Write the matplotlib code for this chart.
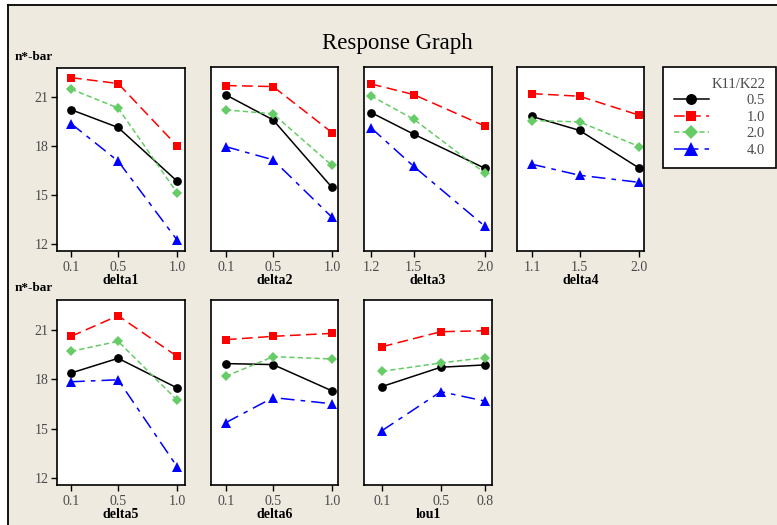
#!/usr/bin/env python3
"""
Response graph: mean n*-bar against each factor level,
one line per K11/K22 ratio, laid out as a 2-row panel grid.
"""

import matplotlib
matplotlib.use('Agg')
import matplotlib.pyplot as plt
from matplotlib.lines import Line2D
from matplotlib.patches import Rectangle

plt.rcParams['font.family'] = ['Liberation Serif', 'DejaVu Serif']
plt.rcParams['font.size'] = 9

# ---- data -------------------------------------------------------------
ratio_labels = ['0.5', '1.0', '2.0', '4.0']

factor_names = ['delta1', 'delta2', 'delta3', 'delta4', 'delta5', 'delta6', 'lou1']
factor_levels = [
    [0.1, 0.5, 1.0],
    [0.1, 0.5, 1.0],
    [1.2, 1.5, 2.0],
    [1.1, 1.5, 2.0],
    [0.1, 0.5, 1.0],
    [0.1, 0.5, 1.0],
    [0.1, 0.5, 0.8],
]
level_ticks = [
    ['0.1', '0.5', '1.0'],
    ['0.1', '0.5', '1.0'],
    ['1.2', '1.5', '2.0'],
    ['1.1', '1.5', '2.0'],
    ['0.1', '0.5', '1.0'],
    ['0.1', '0.5', '1.0'],
    ['0.1', '0.5', '0.8'],
]

# mean n*-bar per factor, one row per K11/K22 ratio (0.5, 1.0, 2.0, 4.0)
delta1 = [[20.25, 19.16, 15.88],
          [22.21, 21.85, 18.04],
          [21.51, 20.35, 15.17],
          [19.40, 17.10, 12.28]]
delta2 = [[21.10, 19.58, 15.47],
          [21.67, 21.61, 18.81],
          [20.19, 19.95, 16.81],
          [17.95, 17.15, 13.65]]
delta3 = [[20.03, 18.71, 16.63],
          [21.77, 21.12, 19.20],
          [21.04, 19.62, 16.34],
          [19.10, 16.75, 13.10]]
delta4 = [[19.79, 18.94, 16.65],
          [21.18, 21.02, 19.87],
          [19.54, 19.46, 17.96],
          [16.88, 16.21, 15.78]]
delta5 = [[18.38, 19.27, 17.48],
          [20.60, 21.85, 19.39],
          [19.69, 20.30, 16.75],
          [17.85, 17.97, 12.72]]
delta6 = [[18.95, 18.89, 17.30],
          [20.40, 20.60, 20.78],
          [18.18, 19.37, 19.23],
          [15.38, 16.89, 16.52]]
lou1 = [[17.56, 18.73, 18.87],
        [19.97, 20.88, 20.94],
        [18.48, 18.99, 19.31],
        [14.89, 17.25, 16.68]]
panel_values = [delta1, delta2, delta3, delta4, delta5, delta6, lou1]

y_ticks = [12, 15, 18, 21]

# ---- styling ----------------------------------------------------------
W, H = 777, 525
BG = '#EEEAE0'
TICK_GRAY = '#4a4a4a'

series_style = [
    dict(color='black', marker='o', ms=6.3, ls='-'),
    dict(color='#FF0000', marker='s', ms=5.6, ls=(0, (7, 3.5))),
    dict(color='#66CC66', marker='D', ms=5.3, ls=(0, (3.5, 2))),
    dict(color='#0000FF', marker='^', ms=7.5, ls=(0, (9, 4, 3, 4))),
]

# axes boxes in pixels: left, top, right, bottom
boxes = [
    (57, 68, 185, 251), (211, 67, 338, 251), (364, 67, 492, 251),
    (517, 67, 644, 251),
    (57, 300, 185, 485), (211, 300, 338, 485), (364, 300, 492, 485),
]
xlims = [(-0.019, 1.068), (-0.027, 1.051), (1.151, 2.049), (0.974, 2.042),
         (-0.019, 1.068), (-0.027, 1.051), (-0.022, 0.848)]
ylim = (11.6, 22.8)


def px_rect(l, t, r, b):
    return [l / W, 1 - b / H, (r - l) / W, (b - t) / H]


fig = plt.figure(figsize=(W / 100, H / 100), dpi=100, facecolor='white')

# beige panel with black top/left border
fig.patches.append(Rectangle((8 / W, 0), 1, 1 - 5 / H, transform=fig.transFigure,
                             facecolor=BG, edgecolor='none', zorder=-10))
fig.add_artist(Line2D([8 / W, 1], [1 - 5 / H, 1 - 5 / H], transform=fig.transFigure,
                      color='black', lw=1.3))
fig.add_artist(Line2D([8 / W, 8 / W], [0, 1 - 5 / H], transform=fig.transFigure,
                      color='black', lw=1.3))

handles = []
for i, name in enumerate(factor_names):
    ax = fig.add_axes(px_rect(*boxes[i]))
    ax.set_facecolor('white')
    x = factor_levels[i]
    for k, vals in enumerate(panel_values[i]):
        st = series_style[k]
        ln, = ax.plot(x, vals, color=st['color'], marker=st['marker'],
                      markersize=st['ms'], linestyle=st['ls'], linewidth=1.1,
                      markeredgewidth=0, clip_on=False)
        if i == 0:
            handles.append(ln)
    ax.set_xlim(*xlims[i])
    ax.set_ylim(*ylim)
    ax.set_xticks(x)
    ax.set_xticklabels(level_ticks[i], color=TICK_GRAY, fontsize=10)
    ax.tick_params(axis='x', direction='out', length=4, width=1, pad=3)
    if i in (0, 4):
        ax.set_yticks(y_ticks)
        ax.set_yticklabels([str(v) for v in y_ticks], color=TICK_GRAY, fontsize=10)
        ax.tick_params(axis='y', direction='out', length=4, width=1, pad=2)
        ax.text(-0.33, 1.03, 'n*-bar', transform=ax.transAxes, fontsize=9.5,
                fontweight='bold', ha='left', va='bottom')
    else:
        ax.set_yticks([])
    ax.set_xlabel(name, fontsize=10, fontweight='bold', labelpad=0)
    for sp in ax.spines.values():
        sp.set_linewidth(1.2)
        sp.set_color('black')

fig.text(397 / W, 1 - 44 / H, 'Response Graph', fontsize=16.5,
         ha='center', va='center')

leg = fig.legend(handles, ratio_labels, title='K11/K22',
                 loc='upper left', bbox_to_anchor=(663 / W, 1 - 67 / H),
                 borderaxespad=0, frameon=True, fancybox=False,
                 edgecolor='black', facecolor='white', framealpha=1,
                 alignment='right', handlelength=2.4, handletextpad=2.6,
                 labelspacing=0.22, borderpad=0.75, fontsize=10.5,
                 title_fontsize=10.5, markerscale=1.25)
leg.get_frame().set_linewidth(1.2)
for t in leg.get_texts():
    t.set_color(TICK_GRAY)
leg.get_title().set_color(TICK_GRAY)

fig.savefig('out.png', dpi=100, facecolor='white')
